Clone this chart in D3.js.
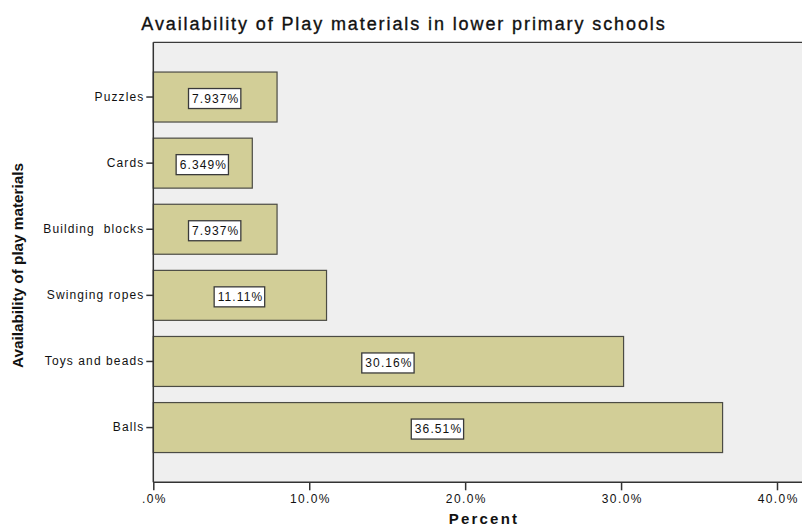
<!DOCTYPE html>
<html>
<head>
<meta charset="utf-8">
<script src="https://cdn.jsdelivr.net/npm/d3@7"></script>
<style>
  html, body { margin: 0; padding: 0; background: #ffffff; }
  svg { display: block; }
  text { font-family: "Liberation Sans", Arial, sans-serif; fill: #111111; }
</style>
</head>
<body>
<svg id="chart" width="803" height="527"></svg>
<script>
// Availability of play materials (percent of schools), listed top to bottom
const categories = ["Puzzles", "Cards", "Building  blocks", "Swinging ropes", "Toys and beads", "Balls"];
const percents = [7.937, 6.349, 7.937, 11.11, 30.16, 36.51];
const valueLabels = ["7.937%", "6.349%", "7.937%", "11.11%", "30.16%", "36.51%"];
const xTicks = [0, 10, 20, 30, 40];
const xTickLabels = [".0%", "10.0%", "20.0%", "30.0%", "40.0%"];

const chartTitle = "Availability of Play materials in lower primary schools";
const xTitle = "Percent";
const yTitle = "Availability of play materials";

const plot = { left: 153.3, top: 42.3, right: 802, bottom: 482.3 };

const svg = d3.select("#chart");

const x = d3.scaleLinear().domain([0, 40]).range([plot.left, 777]);
const y = d3.scaleBand()
  .domain(categories)
  .range([plot.top, plot.bottom])
  .paddingInner(0.244)
  .paddingOuter(0.45);

// plot background and top frame line
svg.append("rect")
  .attr("x", plot.left).attr("y", plot.top)
  .attr("width", plot.right - plot.left).attr("height", plot.bottom - plot.top)
  .attr("fill", "#efefef");
svg.append("line")
  .attr("x1", plot.left).attr("x2", plot.right)
  .attr("y1", plot.top).attr("y2", plot.top)
  .attr("stroke", "#3a3a3a").attr("stroke-width", 1.2);

// bars
const rows = categories.map((c, i) => ({ cat: c, v: percents[i], label: valueLabels[i] }));
svg.append("g").selectAll("rect")
  .data(rows).join("rect")
  .attr("x", x(0))
  .attr("y", d => y(d.cat))
  .attr("width", d => x(d.v) - x(0))
  .attr("height", y.bandwidth())
  .attr("fill", "#d2ce97")
  .attr("stroke", "#4b4b44")
  .attr("stroke-width", 1.2);

// value labels in white boxes, centred in each bar
const labelFont = { size: "12px", spacing: "1.1px" };
const lab = svg.append("g").selectAll("g")
  .data(rows).join("g")
  .attr("transform", d => `translate(${(x(0) + x(d.v)) / 2},${y(d.cat) + y.bandwidth() / 2 + 1.5})`);
lab.append("rect").attr("class", "box");
lab.append("text")
  .text(d => d.label)
  .attr("text-anchor", "middle")
  .attr("dy", "0.36em")
  .attr("dx", 0.55)
  .style("font-size", labelFont.size)
  .style("letter-spacing", labelFont.spacing);
lab.each(function () {
  const g = d3.select(this);
  const bb = g.select("text").node().getBBox();
  g.select("rect.box")
    .attr("x", -bb.width / 2 - 3)
    .attr("y", -10)
    .attr("width", bb.width + 5)
    .attr("height", 20)
    .attr("fill", "#ffffff")
    .attr("stroke", "#3a3a3a")
    .attr("stroke-width", 1.3);
});

// y axis
const yAxis = svg.append("g")
  .attr("transform", `translate(${plot.left},0)`)
  .call(d3.axisLeft(y).tickSize(7).tickPadding(2));
yAxis.select(".domain").remove();
yAxis.selectAll(".tick line").attr("stroke", "#333").attr("stroke-width", 1.5);
yAxis.selectAll(".tick text")
  .style("font-family", "'Liberation Sans', Arial, sans-serif")
  .style("font-size", labelFont.size)
  .style("letter-spacing", labelFont.spacing)
  .style("white-space", "pre")
  .attr("fill", "#111");

// x axis
const xAxis = svg.append("g")
  .attr("transform", `translate(0,${plot.bottom})`)
  .call(d3.axisBottom(x).tickValues(xTicks).tickFormat((d, i) => xTickLabels[i]).tickSize(8).tickPadding(4));
xAxis.select(".domain").remove();
xAxis.selectAll(".tick line").attr("stroke", "#333").attr("stroke-width", 1.5);
xAxis.selectAll(".tick text")
  .style("font-family", "'Liberation Sans', Arial, sans-serif")
  .style("font-size", labelFont.size)
  .style("letter-spacing", "1.4px")
  .attr("dx", 0.7)
  .attr("fill", "#111");

// axis lines
svg.append("line")
  .attr("x1", plot.left).attr("x2", plot.left)
  .attr("y1", plot.top).attr("y2", plot.bottom)
  .attr("stroke", "#333").attr("stroke-width", 1.5);
svg.append("line")
  .attr("x1", plot.left).attr("x2", plot.right)
  .attr("y1", plot.bottom).attr("y2", plot.bottom)
  .attr("stroke", "#333").attr("stroke-width", 1.5);

// titles
svg.append("text")
  .attr("x", 404).attr("y", 30)
  .attr("text-anchor", "middle")
  .style("font-size", "18px")
  .style("letter-spacing", "1.9px")
  .attr("stroke", "#111").attr("stroke-width", 0.35)
  .text(chartTitle);

svg.append("text")
  .attr("x", 484).attr("y", 524)
  .attr("text-anchor", "middle")
  .style("font-size", "15px")
  .style("font-weight", "bold")
  .style("letter-spacing", "2.2px")
  .text(xTitle);

svg.append("text")
  .attr("transform", "translate(23,265.5) rotate(-90)")
  .attr("text-anchor", "middle")
  .attr("textLength", 205)
  .attr("lengthAdjust", "spacingAndGlyphs")
  .style("font-size", "15px")
  .style("font-weight", "bold")
  .text(yTitle);
</script>
</body>
</html>
